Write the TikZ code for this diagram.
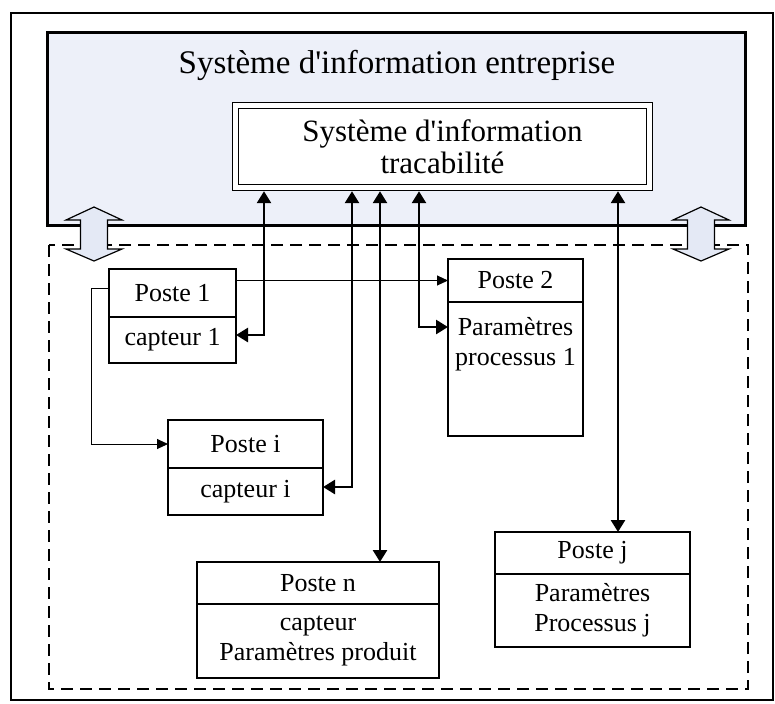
\documentclass[tikz,border=0pt]{standalone}
\usepackage{fontspec}
\setmainfont{Liberation Serif}
\usetikzlibrary{arrows.meta}
\definecolor{sibleu}{HTML}{EDF0F9}
\definecolor{flecheb}{HTML}{E4E9F5}
\tikzset{
  poste/.style={draw, line width=0.6pt, fill=white, inner sep=0pt, outer sep=0pt,
    align=center, font=\fontsize{13}{15}\selectfont},
  texte/.style={inner sep=0pt, align=center, font=\fontsize{13}{15}\selectfont},
  lien/.style={line width=1.3pt,
    arrows={Triangle[length=6pt,width=7pt]-Triangle[length=6pt,width=7pt]}},
  flux/.style={line width=0.5pt, -{Triangle[length=5.5pt,width=5pt]}},
  fleche/.style={draw, line width=0.6pt, fill=flecheb, line join=miter},
}
\begin{document}
\begin{tikzpicture}[x=0.5pt,y=-0.5pt]
  \useasboundingbox (0,0) rectangle (775,703);
  \draw[line width=0.7pt] (11,13) rectangle (773,700);

  % systeme d'information entreprise
  \node[draw, line width=1.5pt, fill=sibleu, inner sep=0pt, outer sep=0pt, anchor=north west,
    minimum width=349pt, minimum height=96.5pt] (sie) at (47,32) {};
  \node[font=\fontsize{16.5}{19}\selectfont, anchor=base] (titre) at (397,73)
    {Système d\textquotesingle information entreprise};
  \node[draw, double, double distance=2.5pt, line width=0.6pt, fill=white, outer sep=1.85pt,
    minimum width=207pt, minimum height=41pt, align=center,
    font=\fontsize{15.5}{16}\selectfont] (sit) at (442.5,146.5)
    {Système d\textquotesingle information\\tracabilité};

  % zone des postes
  \draw[line width=0.6pt, dash pattern=on 6pt off 3.5pt] (49,245) rectangle (748,689);

  \node[poste, anchor=north west, minimum width=63.5pt, minimum height=24pt] (p1) at (109,269) {Poste 1};
  \node[poste, anchor=north, minimum width=63.5pt, minimum height=23pt] (c1) at (p1.south) {capteur 1};

  \node[poste, anchor=north west, minimum width=67.5pt, minimum height=21.5pt] (p2) at (448,259) {Poste 2};
  \node[poste, anchor=north, minimum width=67.5pt, minimum height=67pt] (p2b) at (p2.south) {};
  \node[texte, anchor=north] (p2t) at ([yshift=-7.5pt]p2b.north) {Paramètres\\processus 1};

  \node[poste, anchor=north west, minimum width=77.5pt, minimum height=24pt] (pi) at (168,420) {Poste i};
  \node[poste, anchor=north, minimum width=77.5pt, minimum height=23.5pt] (ci) at (pi.south) {capteur i};

  \node[poste, anchor=north west, minimum width=121pt, minimum height=21pt] (pn) at (197,562) {Poste n};
  \node[poste, anchor=north, minimum width=121pt, minimum height=37pt] (pnb) at (pn.south)
    {capteur\\Paramètres produit};

  \node[poste, anchor=north west, minimum width=97.5pt, minimum height=21pt] (pj) at (495,532) {Poste j};
  \node[poste, anchor=north, minimum width=97.5pt, minimum height=36.5pt] (pjb) at (pj.south)
    {Paramètres\\Processus j};

  % liaisons avec le SI tracabilite
  \draw[lien] ([yshift=2.5pt]c1.east) -| ([xshift=14pt]c1.east |- sit.south);
  \draw[lien] ([xshift=-14.5pt]p2b.north west |- sit.south) |- ([yshift=-12.5pt]p2b.north west);
  \draw[lien] ([yshift=2.25pt]ci.east) -| ([xshift=14.5pt]ci.east |- sit.south);
  \draw[lien] ([xshift=31pt]pn.north |- sit.south) -- ([xshift=31pt]pn.north);
  \draw[lien] ([xshift=12.75pt]pj.north |- sit.south) -- ([xshift=12.75pt]pj.north);

  % flux entre postes
  \draw[flux] (p1.east |- p2.west) -- (p2.west);
  \draw[flux] ([yshift=2.5pt]p1.west) -- ++(-18,0) |- (pi.west);

  % echanges entre les deux niveaux
  \foreach \cx in {94,701}
    \draw[fleche] (\cx,207) -- ++(28,13) -- ++(-14.5,0) -- ++(0,29) -- ++(14.5,0) -- (\cx,261)
      -- ++(-28,-12) -- ++(14.5,0) -- ++(0,-29) -- ++(-14.5,0) -- cycle;
\end{tikzpicture}
\end{document}
